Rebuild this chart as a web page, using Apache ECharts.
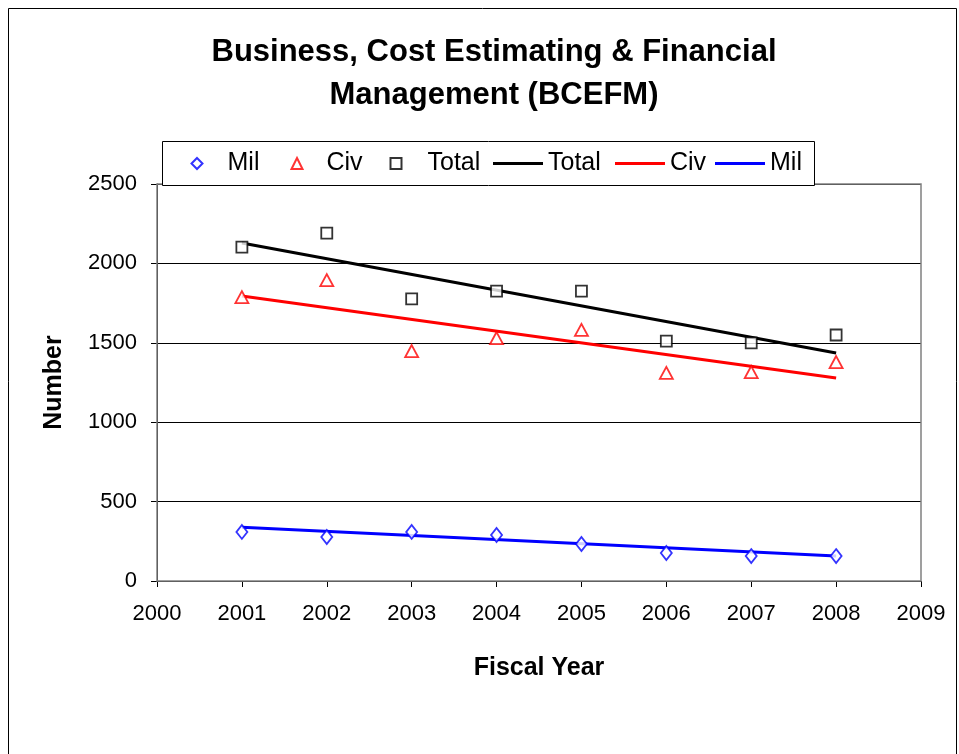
<!DOCTYPE html>
<html>
<head>
<meta charset="utf-8">
<script src="https://cdn.jsdelivr.net/npm/echarts@6/dist/echarts.min.js"></script>
<style>html,body{margin:0;padding:0;background:#fff;}#c{width:959px;height:754px;}</style>
</head>
<body>
<div id="c"></div>
<script>
const years = [2001, 2002, 2003, 2004, 2005, 2006, 2007, 2008];
const milValues = [309, 277, 309, 290, 233, 176, 157, 157];
const civValues = [1788, 1895, 1448, 1530, 1581, 1310, 1316, 1379];
const totalValues = [2103, 2191, 1776, 1826, 1826, 1511, 1499, 1549];
// Trend line endpoints (years 2001 and 2008)
const trendYears = [2001, 2008];
const trendTotal = [2128, 1436];
const trendCiv = [1795, 1278];
const trendMil = [338, 157];
const xTicks = [2000, 2001, 2002, 2003, 2004, 2005, 2006, 2007, 2008, 2009];
const yTicks = [0, 500, 1000, 1500, 2000, 2500];
const legendNames = ['Mil', 'Civ', 'Total', 'Total_line', 'Civ_line', 'Mil_line'];

const pair = (xs, ys) => xs.map((x, i) => [x, ys[i]]);
const FONT = 'Liberation Sans, Arial, sans-serif';
const LEG_FONT = {fontFamily: FONT, fontSize: 25, color: '#000'};

function scatterLegend(name, icon, left, pad) {
  return {
    data: [{name: name, icon: icon}], left: left, top: 151, padding: 0,
    itemWidth: 11, itemHeight: 11,
    textStyle: Object.assign({}, LEG_FONT, {padding: [0, 0, 0, pad]}), z: 10
  };
}
function lineLegend(name, left) {
  return {
    data: [{name: name, icon: 'rect'}], left: left, top: 151, padding: 0,
    itemWidth: 50, itemHeight: 3,
    formatter: n => n.replace('_line', ''),
    textStyle: LEG_FONT, z: 10
  };
}

const chart = echarts.init(document.getElementById('c'), null, {renderer: 'canvas'});
chart.setOption({
  animation: false,
  backgroundColor: '#fff',
  title: {
    text: 'Business, Cost Estimating & Financial\nManagement (BCEFM)',
    left: 489, top: 26, textAlign: 'center',
    textStyle: {fontFamily: FONT, fontSize: 31, fontWeight: 'bold', color: '#000', lineHeight: 43}
  },
  graphic: [
    {type: 'rect', shape: {x: 8.5, y: 8.5, width: 948, height: 760}, style: {fill: 'none', stroke: '#000', lineWidth: 1}, z: 0},
    {type: 'rect', shape: {x: 157, y: 184, width: 764, height: 397}, style: {fill: 'none', stroke: '#808080', lineWidth: 1.5}, z: 1},
    {type: 'rect', shape: {x: 162.5, y: 141.5, width: 652, height: 44}, style: {fill: '#fff', stroke: '#000', lineWidth: 1}, z: 5}
  ],
  legend: [
    scatterLegend(legendNames[0], 'diamond', 190.5, 20),
    scatterLegend(legendNames[1], 'triangle', 290.5, 19),
    scatterLegend(legendNames[2], 'rect', 389.5, 21),
    lineLegend(legendNames[3], 493),
    lineLegend(legendNames[4], 615),
    lineLegend(legendNames[5], 715)
  ],
  grid: {left: 157, top: 184, right: 38, bottom: 173},
  xAxis: {
    type: 'value', min: 2000, max: 2009, interval: 1,
    name: 'Fiscal Year', nameLocation: 'middle', nameGap: 75,
    nameTextStyle: {fontFamily: FONT, fontSize: 25, fontWeight: 'bold', color: '#000'},
    axisLine: {lineStyle: {color: '#000', width: 1}},
    axisTick: {show: true, length: 6, lineStyle: {color: '#000'}},
    axisLabel: {fontFamily: FONT, fontSize: 22, color: '#000', margin: 22, formatter: v => String(v)},
    splitLine: {show: false}
  },
  yAxis: {
    type: 'value', min: 0, max: 2500, interval: 500,
    name: 'Number', nameLocation: 'middle', nameGap: 90, nameRotate: 90,
    nameTextStyle: {fontFamily: FONT, fontSize: 25, fontWeight: 'bold', color: '#000'},
    axisLine: {show: true, lineStyle: {color: '#000', width: 1}},
    axisTick: {show: true, length: 6, lineStyle: {color: '#000'}},
    axisLabel: {fontFamily: FONT, fontSize: 22, color: '#000', margin: 20, formatter: v => String(v)},
    splitLine: {show: true, lineStyle: {color: '#000', width: 1}}
  },
  series: [
    {name: 'Mil', type: 'scatter', symbol: 'diamond', symbolSize: [11, 14], data: pair(years, milValues),
     itemStyle: {color: '#fff', borderColor: '#0000ff', borderWidth: 1.8}, z: 4},
    {name: 'Civ', type: 'scatter', symbol: 'triangle', symbolSize: [13, 12], data: pair(years, civValues),
     itemStyle: {color: '#fff', borderColor: '#ff0000', borderWidth: 1.8}, z: 4},
    {name: 'Total', type: 'scatter', symbol: 'rect', symbolSize: 11, data: pair(years, totalValues),
     itemStyle: {color: '#fff', borderColor: '#000', borderWidth: 1.8}, z: 4},
    {name: 'Total_line', type: 'line', showSymbol: false, symbol: 'none', data: pair(trendYears, trendTotal),
     lineStyle: {color: '#000', width: 3}, itemStyle: {color: '#000'}, z: 3},
    {name: 'Civ_line', type: 'line', showSymbol: false, symbol: 'none', data: pair(trendYears, trendCiv),
     lineStyle: {color: '#ff0000', width: 3}, itemStyle: {color: '#ff0000'}, z: 3},
    {name: 'Mil_line', type: 'line', showSymbol: false, symbol: 'none', data: pair(trendYears, trendMil),
     lineStyle: {color: '#0000ff', width: 3}, itemStyle: {color: '#0000ff'}, z: 3}
  ]
});
</script>
</body>
</html>
